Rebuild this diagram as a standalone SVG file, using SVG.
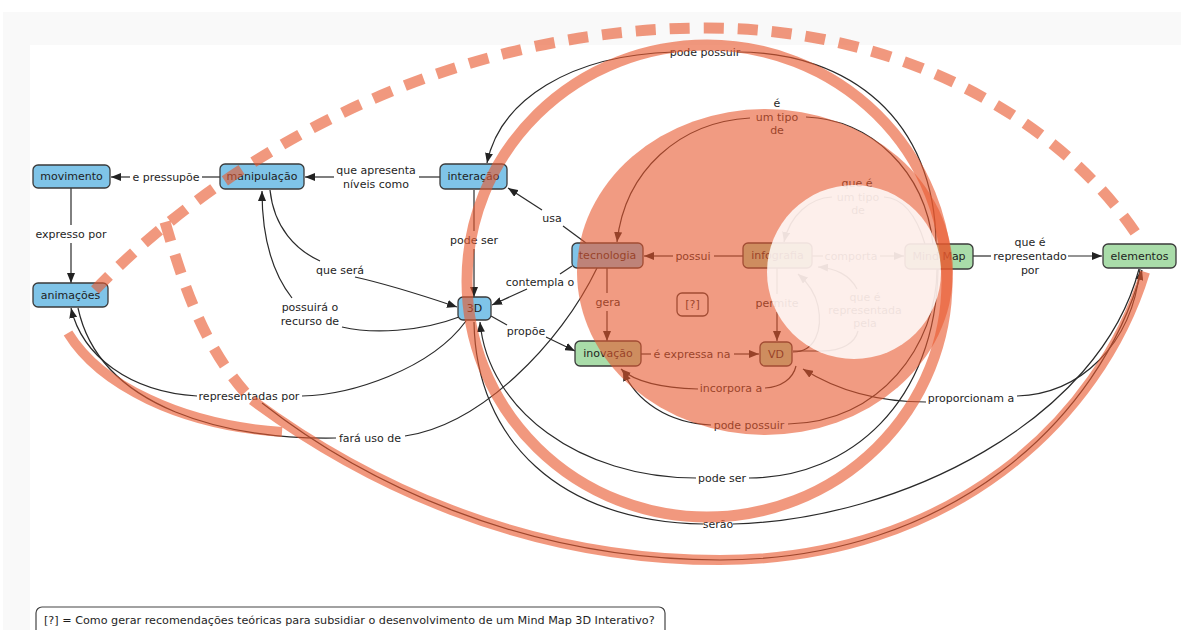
<svg xmlns="http://www.w3.org/2000/svg" width="1181" height="630" viewBox="0 0 1181 630">
  <defs>
    <marker id="ah" viewBox="0 0 10 8" refX="10" refY="4" markerWidth="10" markerHeight="8" markerUnits="userSpaceOnUse" orient="auto">
      <path d="M0,0 L10,4 L0,8 z" fill="#222"/>
    </marker>
    <style>
      .node rect { stroke: #3a3a3a; stroke-width: 1.3; }
      .blue rect { fill: #7fc4e8; }
      .green rect { fill: #a9dca9; }
      .plain rect { fill: #ffffff; }
      .node text { font-family: "DejaVu Sans", Verdana, sans-serif; font-size: 11px; fill: #1e1e1e; text-anchor: middle; dominant-baseline: central; }
      .lbl { font-family: "DejaVu Sans", Verdana, sans-serif; font-size: 11px; fill: #1e1e1e; text-anchor: middle; dominant-baseline: central; }
      #connectors path { fill: none; stroke: #2a2a2a; stroke-width: 1.2; }
      #connectors path.arr { marker-end: url(#ah); }
      .hl { fill: none; stroke: #e8582e; stroke-opacity: 0.62; }
    </style>
  </defs>

  <!-- page background -->
  <rect width="1181" height="630" fill="#ffffff"/>
  <rect x="3" y="12" width="1178" height="618" fill="#f9f9f9"/>
  <rect x="30" y="45" width="1151" height="585" fill="#ffffff"/>

  <!-- connectors -->
  <g id="connectors">
    <!-- manipulação -> e pressupõe -> movimento -->
    <path d="M220,177 H202"/>
    <path class="arr" d="M130,177 H111"/>
    <!-- interação -> que apresenta níveis como -> manipulação -->
    <path d="M440,177 H419"/>
    <path class="arr" d="M334,177 H305"/>
    <!-- movimento -> expresso por -> animações -->
    <path d="M71,188 V225"/>
    <path class="arr" d="M71,243 V283"/>
    <!-- manipulação -> que será -> 3D -->
    <path d="M270,190 C274,228 296,250 320,261"/>
    <path class="arr" d="M355,277 C395,286 430,298 457,307"/>
    <!-- 3D -> possuirá o recurso de -> manipulação -->
    <path d="M459,317 C420,332 372,334 342,327"/>
    <path class="arr" d="M292,298 C270,270 262,232 262,191"/>
    <!-- interação -> pode ser -> 3D -->
    <path d="M474,190 V231"/>
    <path class="arr" d="M474,249 V297"/>
    <!-- tecnologia -> usa -> interação -->
    <path d="M586,243 L563,226"/>
    <path class="arr" d="M542,210 L508,188"/>
    <!-- tecnologia -> contempla o -> 3D -->
    <path d="M572,266 L560,274"/>
    <path class="arr" d="M527,289 L492,305"/>
    <!-- 3D -> propõe -> inovação -->
    <path d="M491,316 L507,325"/>
    <path class="arr" d="M546,337 L575,351"/>
    <!-- tecnologia -> gera -> inovação -->
    <path d="M607,268 V293"/>
    <path class="arr" d="M607,311 V341"/>
    <!-- infografia -> possui -> tecnologia -->
    <path d="M743,256 H714"/>
    <path class="arr" d="M673,256 H644"/>
    <!-- infografia -> comporta -> Mind Map -->
    <path d="M812,256 H823"/>
    <path class="arr" d="M880,256 H904"/>
    <!-- Mind Map -> que é representado por -> elementos -->
    <path d="M973,256 H991"/>
    <path class="arr" d="M1068,256 H1102"/>
    <!-- inovação -> é expressa na -> VD -->
    <path d="M641,354 H651"/>
    <path class="arr" d="M734,354 H759"/>
    <!-- infografia -> permite -> VD -->
    <path d="M777,268 V294"/>
    <path class="arr" d="M777,312 V341"/>
    <!-- VD -> incorpora a -> inovação -->
    <path d="M796,366 C793,379 781,387 765,388"/>
    <path class="arr" d="M698,389 C665,388 636,383 621,369"/>
    <!-- Mind Map -> pode possuir -> inovação -->
    <path d="M937,269 C937,345 880,423 788,424"/>
    <path class="arr" d="M711,425 C668,423 636,401 623,371"/>
    <!-- elementos -> proporcionam a -> VD / infografia -->
    <path d="M1140,269 C1132,345 1080,394 1017,396"/>
    <path class="arr" d="M926,402 C870,402 830,386 803,369"/>
    <path class="arr" d="M793,352 C815,352 823,330 818,306 C815,292 806,281 798,274"/>
    <!-- VD -> que é representada pela -> infografia -->
    <path d="M793,351 H822 C842,351 855,343 858,331"/>
    <path class="arr" d="M857,289 C850,275 835,268 818,267"/>
    <!-- Mind Map -> é um tipo de -> tecnologia -->
    <path d="M933,244 C925,170 870,119 806,117"/>
    <path class="arr" d="M750,118 C680,122 625,170 617,242"/>
    <!-- Mind Map -> que é um tipo de -> infografia -->
    <path d="M925,244 C916,214 902,198 884,197"/>
    <path class="arr" d="M832,197 C810,198 790,215 784,242"/>
    <!-- Mind Map -> pode possuir -> interação -->
    <path d="M936,244 C935,120 850,52 737,52"/>
    <path class="arr" d="M674,52 C570,55 500,100 487,163"/>
    <!-- Mind Map -> pode ser -> 3D -->
    <path d="M938,269 C936,402 850,478 749,478"/>
    <path class="arr" d="M696,478 C580,478 488,410 480,322"/>
    <!-- elementos -> serão -> 3D -->
    <path d="M1139,269 C1100,420 900,520 733,524"/>
    <path d="M703,524 C560,522 476,440 474,322"/>
    <!-- outer link into elementos -->
    <path class="arr" d="M262,403 C360,480 520,560 720,560 C950,560 1100,420 1142,270"/>
    <!-- 3D -> representadas por -> animações -->
    <path d="M466,321 C430,370 350,395 302,396"/>
    <path class="arr" d="M197,396 C130,392 82,356 71,308"/>
    <!-- tecnologia -> fará uso de -> animações -->
    <path d="M597,268 C560,345 480,425 405,436"/>
    <path d="M336,438 C230,440 100,410 78,308"/>
  </g>

  <!-- linking phrases -->
  <g id="labels">
    <text class="lbl" x="166" y="177">e pressupõe</text>
    <text class="lbl" x="376" y="170">que apresenta</text>
    <text class="lbl" x="376" y="184">níveis como</text>
    <text class="lbl" x="71" y="234">expresso por</text>
    <text class="lbl" x="340" y="270">que será</text>
    <text class="lbl" x="310" y="307">possuirá o</text>
    <text class="lbl" x="310" y="321">recurso de</text>
    <text class="lbl" x="474" y="240">pode ser</text>
    <text class="lbl" x="552" y="218">usa</text>
    <text class="lbl" x="540" y="282">contempla o</text>
    <text class="lbl" x="526" y="331">propõe</text>
    <text class="lbl" x="608" y="302">gera</text>
    <text class="lbl" x="693" y="256">possui</text>
    <text class="lbl" x="851" y="256">comporta</text>
    <text class="lbl" x="777" y="303">permite</text>
    <text class="lbl" x="1030" y="242">que é</text>
    <text class="lbl" x="1030" y="256">representado</text>
    <text class="lbl" x="1030" y="270">por</text>
    <text class="lbl" x="692" y="354">é expressa na</text>
    <text class="lbl" x="731" y="388">incorpora a</text>
    <text class="lbl" x="749" y="425">pode possuir</text>
    <text class="lbl" x="971" y="398">proporcionam a</text>
    <text class="lbl" x="777" y="103">é</text>
    <text class="lbl" x="777" y="117">um tipo</text>
    <text class="lbl" x="777" y="130">de</text>
    <text class="lbl" x="857" y="183">que é</text>
    <text class="lbl" x="858" y="197">um tipo</text>
    <text class="lbl" x="858" y="210">de</text>
    <text class="lbl" x="865" y="297">que é</text>
    <text class="lbl" x="865" y="310">representada</text>
    <text class="lbl" x="865" y="323">pela</text>
    <text class="lbl" x="705" y="52">pode possuir</text>
    <text class="lbl" x="722" y="478">pode ser</text>
    <text class="lbl" x="718" y="524">serão</text>
    <text class="lbl" x="249" y="396">representadas por</text>
    <text class="lbl" x="370" y="438">fará uso de</text>
  </g>

  <!-- concepts -->
  <g id="movimento" class="node blue"><rect x="33" y="165" width="77" height="23" rx="5"/><text x="71.5" y="176.5">movimento</text></g>
  <g id="manipulacao" class="node blue"><rect x="220" y="164" width="84" height="25" rx="5"/><text x="262" y="176.5">manipulação</text></g>
  <g id="interacao" class="node blue"><rect x="440" y="164" width="67" height="25" rx="5"/><text x="473.5" y="176.5">interação</text></g>
  <g id="animacoes" class="node blue"><rect x="33" y="283" width="75" height="24" rx="5"/><text x="70.5" y="295">animações</text></g>
  <g id="n3d" class="node blue"><rect x="458" y="297" width="33" height="23" rx="5"/><text x="474.5" y="308.5">3D</text></g>
  <g id="tecnologia" class="node blue"><rect x="572" y="243" width="71" height="25" rx="5"/><text x="607.5" y="255.5">tecnologia</text></g>
  <g id="infografia" class="node green"><rect x="743" y="243" width="69" height="25" rx="5"/><text x="777.5" y="255.5">infografia</text></g>
  <g id="mindmap" class="node green"><rect x="905" y="244" width="68" height="25" rx="5"/><text x="939" y="256.5">Mind Map</text></g>
  <g id="elementos" class="node green"><rect x="1103" y="244" width="73" height="24" rx="5"/><text x="1139.5" y="256">elementos</text></g>
  <g id="inovacao" class="node green"><rect x="575" y="341" width="66" height="25" rx="5"/><text x="608" y="353.5">inovação</text></g>
  <g id="vd" class="node green"><rect x="760" y="342" width="32" height="24" rx="5"/><text x="776" y="354">VD</text></g>
  <g id="question" class="node plain"><rect x="677" y="293" width="31" height="23" rx="5"/><text x="692.5" y="304.5">[?]</text></g>

  <!-- highlight marks drawn over the map -->
  <g id="highlights">
    <ellipse cx="765" cy="272" rx="188" ry="163" fill="#e8582e" fill-opacity="0.6"/>
    <circle cx="854" cy="272" r="87" fill="#ffffff" fill-opacity="0.84"/>
    <ellipse class="hl" cx="707" cy="281" rx="240" ry="236" stroke-width="11"/>
    <path class="hl" d="M95,290 C230,150 450,30 700,28 C900,26 1060,120 1137,235" stroke-width="11" stroke-dasharray="20 14"/>
    <path class="hl" d="M165,222 C185,290 205,350 252,400" stroke-width="11" stroke-dasharray="20 14"/>
    <path class="hl" d="M252,400 C360,480 520,560 720,560 C950,560 1100,420 1145,272" stroke-width="10"/>
    <path class="hl" d="M68,333 C100,385 180,425 282,432" stroke-width="10"/>
  </g>

  <!-- legend -->
  <g id="legend">
    <rect x="36" y="607" width="629" height="30" rx="6" fill="#ffffff" stroke="#444" stroke-width="1.2"/>
    <text x="44" y="620" font-family="DejaVu Sans, Verdana, sans-serif" font-size="11.2" fill="#1e1e1e" dominant-baseline="central">[?] = Como gerar recomendações teóricas para subsidiar o desenvolvimento de um Mind Map 3D Interativo?</text>
  </g>
</svg>
